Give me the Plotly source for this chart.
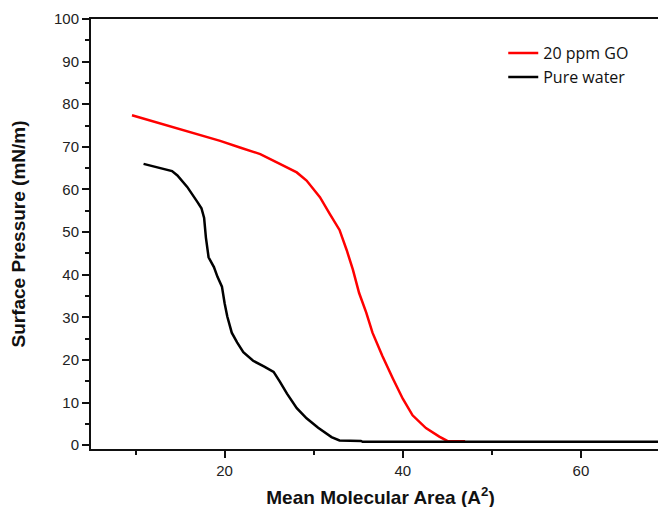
import plotly.graph_objects as go

# 20 ppm GO isotherm
go_area = [9.6, 12.1, 14.3, 16.9, 19.5, 21.8, 24.0, 26.2, 28.1, 29.2, 30.7, 31.8, 32.9, 33.7,
           34.4, 35.1, 35.9, 36.6, 37.7, 38.9, 40.0, 41.1, 42.6, 44.1, 45.0, 47.0]
go_pressure = [77.4, 75.9, 74.5, 73.0, 71.4, 69.8, 68.3, 66.0, 64.0, 62.1, 58.2, 54.3, 50.5, 45.8,
               41.2, 35.7, 31.1, 26.4, 21.0, 15.6, 10.9, 7.0, 4.0, 2.0, 1.0, 0.9]

# Pure water isotherm
water_area = [10.9, 12.8, 14.1, 14.7, 15.8, 16.9, 17.4, 17.7, 17.9, 18.2, 18.8, 19.2, 19.7, 20.0,
              20.3, 20.8, 21.4, 22.1, 23.2, 24.4, 25.5, 26.2, 27.0, 28.1, 29.2, 30.5, 32.0,
              32.9, 35.3, 35.5, 70.0]
water_pressure = [66.0, 64.9, 64.3, 63.3, 60.6, 57.2, 55.6, 53.3, 48.7, 44.1, 41.8, 39.5, 37.2, 33.3,
                  30.2, 26.4, 24.1, 21.8, 19.8, 18.5, 17.2, 14.9, 12.1, 8.7, 6.3, 4.1, 1.9,
                  1.1, 1.0, 0.8, 0.8]

series_names = ["20 ppm GO", "Pure water"]
x_ticks = [20, 40, 60]
y_ticks = [0, 10, 20, 30, 40, 50, 60, 70, 80, 90, 100]

fig = go.Figure()
fig.add_trace(go.Scatter(x=go_area, y=go_pressure, mode="lines", name=series_names[0],
                         line=dict(color="#ff0000", width=2.5)))
fig.add_trace(go.Scatter(x=water_area, y=water_pressure, mode="lines", name=series_names[1],
                         line=dict(color="#000000", width=2.5)))

tickfont = dict(family="Liberation Sans, Arial, sans-serif", size=15, color="#222222")
titlefont = dict(family="Liberation Sans, Arial, sans-serif", size=19, color="#111111", weight="bold")

fig.update_xaxes(range=[5, 70], tickvals=x_ticks, ticktext=[str(v) for v in x_ticks],
                 ticks="outside", ticklen=7, tickwidth=2, tickcolor="#111",
                 showline=True, linewidth=2, linecolor="#111", mirror=True,
                 showgrid=False, zeroline=False, tickfont=tickfont,
                 minor=dict(ticks="outside", ticklen=4, tickwidth=2, tickcolor="#111", dtick=10, tick0=0),
                 title=dict(text="Mean Molecular Area (A<sup>2</sup>)", font=titlefont, standoff=13))
fig.update_yaxes(range=[-0.9, 100], tickvals=y_ticks, ticktext=[str(v) for v in y_ticks],
                 ticks="outside", ticklen=7, tickwidth=2, tickcolor="#111",
                 showline=True, linewidth=2, linecolor="#111", mirror=True,
                 showgrid=False, zeroline=False, tickfont=tickfont,
                 ticklabeloverflow="allow",
                 minor=dict(ticks="outside", ticklen=4, tickwidth=2, tickcolor="#111", dtick=5, tick0=0),
                 title=dict(text="Surface Pressure (mN/m)", font=titlefont, standoff=24))

fig.update_layout(
    width=666, height=507,
    margin=dict(l=83, r=2, t=7, b=66),
    paper_bgcolor="white", plot_bgcolor="white",
    showlegend=True,
    legend=dict(x=0.712, y=0.96, xanchor="left", yanchor="top",
                bgcolor="rgba(0,0,0,0)", tracegroupgap=0,
                font=dict(family="Open Sans, sans-serif", size=16, color="#111")),
)

fig.write_html("out.html")
